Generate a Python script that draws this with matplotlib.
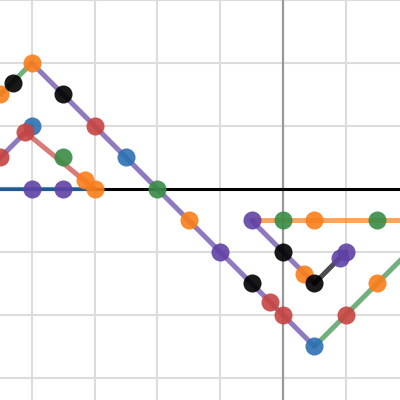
import matplotlib
matplotlib.use("Agg")
import matplotlib.pyplot as plt

# цвета в стиле desmos
red = '#c74440'
blue = '#2d70b3'
green = '#388c46'
purple = '#6042a6'
orange = '#fa7e19'
black = '#000000'

# отрезки (x, y, цвет)
seg_green1_x = [-4.5, -4.0]
seg_green1_y = [1.5, 2.0]
seg_purple1_x = [-4.0, 0.5]
seg_purple1_y = [2.0, -2.5]
seg_green2_x = [0.5, 2.0]
seg_green2_y = [-2.5, -1.0]
seg_purple2_x = [-4.6, -4.0]
seg_purple2_y = [0.4, 1.0]
seg_red_x = [-4.1, -3.0]
seg_red_y = [0.9, 0.0]
seg_blue_x = [-4.7, -3.0]
seg_blue_y = [0.0, 0.0]
seg_orange_x = [-0.5, 2.0]
seg_orange_y = [-0.5, -0.5]
seg_purple3_x = [-0.5, 0.5]
seg_purple3_y = [-0.5, -1.5]
seg_black_x = [0.5, 1.0]
seg_black_y = [-1.5, -1.0]

segments = [
    (seg_green1_x, seg_green1_y, green),
    (seg_purple1_x, seg_purple1_y, purple),
    (seg_green2_x, seg_green2_y, green),
    (seg_purple2_x, seg_purple2_y, purple),
    (seg_red_x, seg_red_y, red),
    (seg_orange_x, seg_orange_y, orange),
    (seg_purple3_x, seg_purple3_y, purple),
    (seg_black_x, seg_black_y, black),
]

# точки
pts_x = [-4.5, -4.3, -4.0, -3.5, -3.0, -2.5, -2.0, -1.5, -1.0, -0.5,
         -0.2, 0.0, 0.5, 1.0, 1.5, 2.0,
         -4.0, -4.1, -4.5, -3.5, -3.15, -3.0, -4.0, -3.5,
         -0.5, 0.0, 0.5, 1.5, 0.0, 0.33, 0.5, 1.0, 0.9]
pts_y = [1.5, 1.68, 2.0, 1.5, 1.0, 0.5, 0.0, -0.5, -1.0, -1.5,
         -1.8, -2.0, -2.5, -2.0, -1.5, -1.0,
         1.0, 0.9, 0.5, 0.5, 0.14, 0.0, 0.0, 0.0,
         -0.5, -0.5, -0.5, -0.5, -1.0, -1.35, -1.5, -1.0, -1.1]
pts_c = [orange, black, orange, black, red, blue, green, orange, purple, black,
         red, red, blue, red, orange, red,
         blue, red, red, green, orange, orange, purple, purple,
         purple, green, orange, green, black, orange, black, purple, purple]

fig = plt.figure(figsize=(4, 4), dpi=100)
ax = fig.add_axes([0, 0, 1, 1])
ax.set_xlim(-4.506, 1.863)
ax.set_ylim(-3.35, 3.0)

# сетка
for gx in range(-4, 2):
    if gx != 0:
        ax.axvline(gx, color='#dcdcdc', lw=1.5, zorder=0)
for gy in range(-3, 4):
    if gy != 0:
        ax.axhline(gy, color='#dcdcdc', lw=1.5, zorder=0)
ax.axvline(0, color='#999999', lw=1.6, zorder=1)
ax.axhline(0, color='black', lw=2.2, zorder=1)

ax.plot(seg_blue_x, seg_blue_y, color=blue, lw=3, alpha=0.8, zorder=2,
        solid_capstyle='round')
for sx, sy, c in segments:
    ax.plot(sx, sy, color=c, lw=3.6, alpha=0.7, zorder=2, solid_capstyle='round')

for x, y, c in zip(pts_x, pts_y, pts_c):
    ax.plot([x], [y], 'o', color=c, ms=13, alpha=0.9, mew=0, zorder=3)

ax.axis('off')
fig.savefig('out.png', dpi=100)
